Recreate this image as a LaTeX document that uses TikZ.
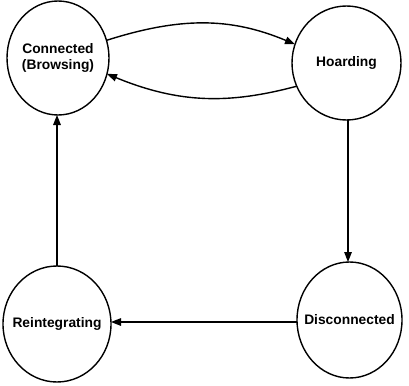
\documentclass[tikz,border=0pt]{standalone}
\usepackage{fontspec}
\setmainfont{Liberation Sans}
\usetikzlibrary{shapes.geometric,arrows.meta}
\begin{document}
\begin{tikzpicture}[x=1pt,y=-1pt,
  state/.style={draw=black, ellipse, line width=1.4pt, inner sep=-20pt,
    outer sep=0pt, align=center, font=\fontsize{13.8}{16}\selectfont\bfseries},
  link/.style={line width=1.4pt, -{Triangle[length=10pt,width=7.5pt]}}]
  \useasboundingbox (0,0) rectangle (409,385);
  \node[state, minimum width=102pt, minimum height=114pt] (conn) at (58,58) {Connected\\(Browsing)};
  \node[state, minimum width=109pt, minimum height=114pt] (hoard) at (346.5,63) {Hoarding};
  \node[state, minimum width=105pt, minimum height=116pt] (disc) at (349.5,320) {Disconnected};
  \node[state, minimum width=108pt, minimum height=116pt] (reint) at (57,324) {Reintegrating};
  % two curved transitions between connected and hoarding
  \draw[link] (conn.20) .. controls (180,17) and (230,17) .. (hoard.160);
  \draw[link] (hoard.-155) .. controls (230,104) and (180,104) .. (conn.-18);
  % straight transitions around the cycle
  \draw[link] (hoard.south -| 348,0) -- (disc.north -| 348,0);
  \draw[link] (disc.west |- 0,322) -- (reint.east |- 0,322);
  \draw[link] (reint.north -| 57,0) -- (conn.south -| 57,0);
\end{tikzpicture}
\end{document}
